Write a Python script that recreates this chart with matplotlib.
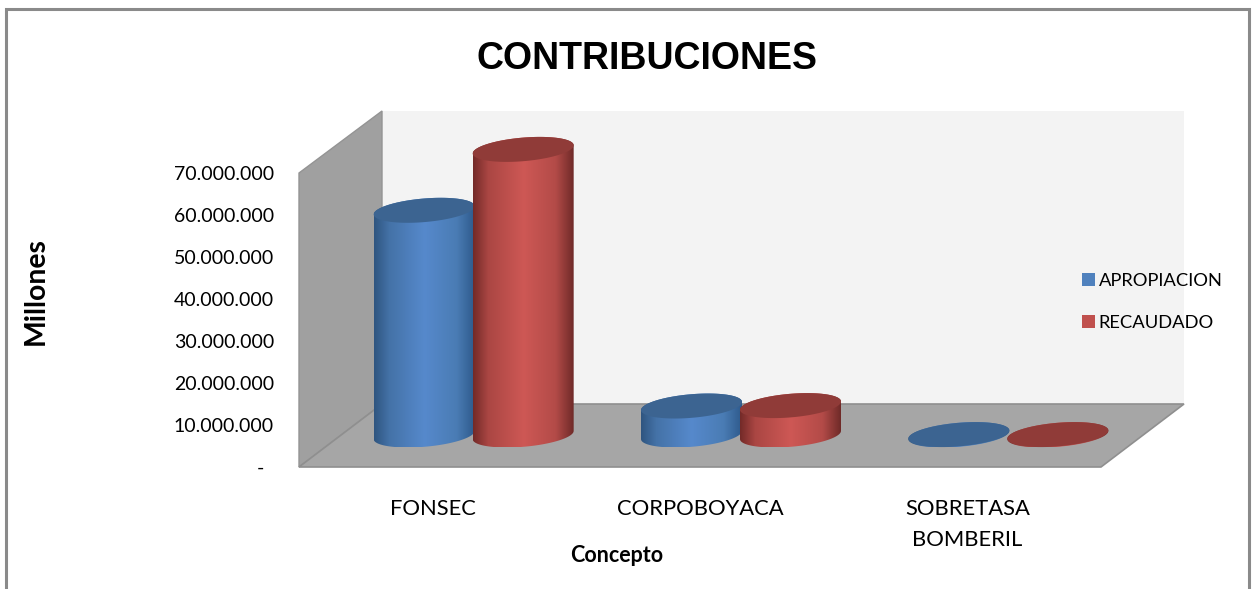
import numpy as np
from matplotlib import pyplot as plt
from matplotlib.colors import LinearSegmentedColormap
from matplotlib.patches import Patch, Polygon, Rectangle
from matplotlib.path import Path
from matplotlib.transforms import Affine2D

# datos
conceptos = ["FONSEC", "CORPOBOYACA", "SOBRETASA\nBOMBERIL"]
apropiacion = [53500000, 6900000, 100000]
recaudado = [68000000, 7000000, 100000]
y_ticks = [0, 10000000, 20000000, 30000000, 40000000, 50000000, 60000000, 70000000]
y_labels = ["-  ", "10.000.000", "20.000.000", "30.000.000", "40.000.000",
            "50.000.000", "60.000.000", "70.000.000"]

W, H = 1256, 589
plt.rcParams['font.family'] = ['Lato', 'DejaVu Sans']
fig = plt.figure(figsize=(W / 100, H / 100), dpi=100, facecolor='white')

# fondo: marco, paredes y piso en pixeles
bg = fig.add_axes([0, 0, 1, 1], zorder=0)
bg.set_xlim(0, W)
bg.set_ylim(H, 0)
bg.axis('off')
bg.add_patch(Rectangle((6, 9), 1243, 590, fc='white', ec='#8a8a8a', lw=2.2))
bg.add_patch(Polygon([(382, 111), (1184, 111), (1184, 404), (382, 404)], fc='#f3f3f3', ec='none'))
bg.add_patch(Polygon([(299, 173), (382, 111), (382, 404), (299, 467)], fc='#a0a0a0', ec='#949494', lw=1))
bg.add_patch(Polygon([(299, 467), (1101, 467), (1184, 404), (382, 404)], fc='#a6a6a6', ec='#8f8f8f', lw=1.2))

# ejes de datos sobre el plano frontal
ax = fig.add_axes([299 / W, (H - 467) / H, 802 / W, 294 / H], zorder=1)
ax.patch.set_visible(False)
for s in ax.spines.values():
    s.set_visible(False)

px_x = 802 / 3  # pixeles por categoria
px_y = 294 / 70000000  # pixeles por unidad
shifted = Affine2D().translate(41, 32)


def cilindro(xc, valor, cmap, color_top):
    hw = 50.5
    dy = 12.5
    dx = dy * 83 / 62.5
    wx = np.sqrt(hw ** 2 - dx ** 2)
    t0 = np.arctan2(dx, wx)
    t = np.linspace(t0, t0 + np.pi, 60)
    # arco superior e inferior de la elipse inclinada
    ex_up = (wx * np.cos(t) + dx * np.sin(t)) / px_x
    ey_up = (dy * np.sin(t)) / px_y
    tb = t + np.pi
    ex_lo = (wx * np.cos(tb) + dx * np.sin(tb)) / px_x
    ey_lo = (dy * np.sin(tb)) / px_y
    xs = np.concatenate([xc + ex_up, xc + ex_lo])
    ys = np.concatenate([valor + ey_up, ey_lo])
    trans = shifted_trans
    body = Path(np.column_stack([xs, ys]))
    hx = hw / px_x
    im = ax.imshow(np.linspace(0, 1, 256).reshape(1, -1), cmap=cmap, aspect='auto',
                   extent=(xc - hx, xc + hx, ys.min(), ys.max()),
                   transform=trans, zorder=3, interpolation='bilinear')
    im.set_clip_box(fig.bbox)
    im.set_clip_path(body, trans)
    xt = np.concatenate([xc + ex_up, xc + ex_lo])
    yt = np.concatenate([valor + ey_up, valor + ey_lo])
    ax.add_patch(Polygon(np.column_stack([xt, yt]), fc=color_top, ec='none',
                         transform=trans, zorder=3, clip_on=False))


azul = LinearSegmentedColormap.from_list('azul', [(0, '#2f5580'), (0.15, '#4472a7'), (0.5, '#5689cc'),
                                                  (0.82, '#4a7cb4'), (1, '#2e5a8c')])
rojo = LinearSegmentedColormap.from_list('rojo', [(0, '#732a28'), (0.15, '#aa4643'), (0.5, '#ce5855'),
                                                  (0.82, '#b34b48'), (1, '#6f2a28')])

ax.set_xlim(0, 3)
ax.set_ylim(0, 70000000)
shifted_trans = ax.transData + shifted

sep = 49.5 / px_x
for i in range(len(conceptos)):
    cilindro(i + 0.5 - sep, apropiacion[i], azul, '#3c6491')
    cilindro(i + 0.5 + sep, recaudado[i], rojo, '#903b38')

ax.set_xlim(0, 3)
ax.set_ylim(0, 70000000)
ax.set_xticks([i + 0.5 for i in range(len(conceptos))])
ax.set_xticklabels(conceptos, fontsize=15.8, color='black', linespacing=1.7)
ax.set_yticks(y_ticks)
ax.set_yticklabels(y_labels, fontsize=14, color='black')
ax.tick_params(axis='x', length=0, pad=23)
ax.tick_params(axis='y', length=0, pad=18)

# titulos
fig.text(647.5 / W, 1 - 59 / H, "CONTRIBUCIONES", family=['Liberation Sans'], fontsize=27,
         fontweight='bold', ha='center', va='center')
fig.text(36 / W, 1 - 291 / H, "Millones", fontsize=20.4, fontweight='bold',
         rotation=90, ha='center', va='center')
fig.text(617 / W, 1 - 555 / H, "Concepto", fontsize=15.5, fontweight='bold', ha='center', va='center')

handles = [Patch(fc='#4f81bd', ec='none'), Patch(fc='#c0504d', ec='none')]
fig.legend(handles, ["APROPIACION", "RECAUDADO"], loc='upper left',
           bbox_to_anchor=(1082 / W, 1 - 272.5 / H), frameon=False, fontsize=13.2,
           handlelength=0.7, handleheight=0.7, handletextpad=0.2,
           labelspacing=1.45, borderpad=0, borderaxespad=0)

plt.savefig("out.png", dpi=100)
